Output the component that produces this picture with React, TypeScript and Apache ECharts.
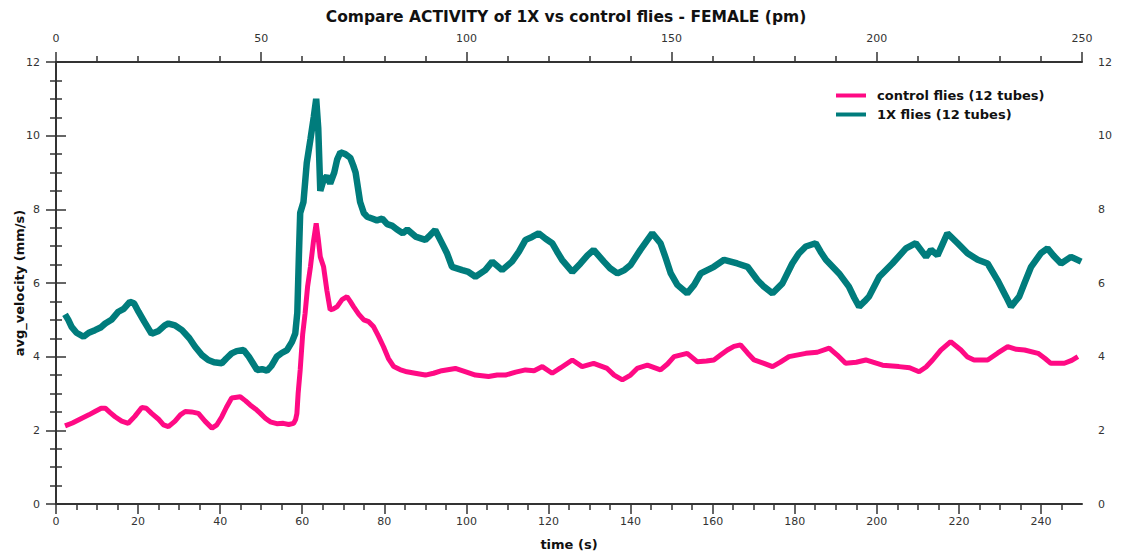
import React, { useEffect, useRef } from "react";
import * as echarts from "echarts";

const TITLE = "Compare ACTIVITY of 1X vs control flies - FEMALE (pm)";
const X_NAME = "time (s)";
const Y_NAME = "avg_velocity (mm/s)";
const CONTROL_NAME = "control flies (12 tubes)";
const ONE_X_NAME = "1X flies (12 tubes)";

const CONTROL_COLOR = "#ff0a84";
const ONE_X_COLOR = "#007c7c";

// bottom axis: labelled ticks every 20 s, short ticks every 5 s
const BOTTOM_MAJOR = [0, 20, 40, 60, 80, 100, 120, 140, 160, 180, 200, 220, 240];
const BOTTOM_MINOR = Array.from({ length: 50 }, (_, i) => i * 5).filter((v) => v % 20 !== 0);

// [time (s), avg_velocity (mm/s)]
const controlFlies: [number, number][] = [
  [2.2, 2.12], [4.0, 2.2], [6.3, 2.33], [8.0, 2.42], [9.5, 2.51], [11.0, 2.6], [12.0, 2.6],
  [13.2, 2.48], [14.4, 2.37], [16.0, 2.25], [17.6, 2.19], [19.2, 2.38], [20.9, 2.62], [22.0, 2.6],
  [23.3, 2.46], [25.0, 2.3], [26.2, 2.15], [27.4, 2.1], [29.0, 2.25], [30.3, 2.42], [31.5, 2.51],
  [33.0, 2.5], [34.7, 2.46], [36.3, 2.25], [38.0, 2.06], [39.2, 2.15], [40.4, 2.37], [41.5, 2.62],
  [42.8, 2.88], [44.9, 2.91], [46.2, 2.8], [47.3, 2.69], [48.6, 2.58], [49.8, 2.46], [51.0, 2.33],
  [52.2, 2.23], [53.8, 2.18], [55.4, 2.19], [56.7, 2.16], [57.9, 2.19], [58.4, 2.3], [58.7, 2.46],
  [59.0, 3.0], [59.5, 3.64], [60.1, 4.6], [60.7, 5.18], [61.3, 5.9], [62.0, 6.44], [62.7, 7.1],
  [63.4, 7.62], [63.9, 7.2], [64.4, 6.71], [65.2, 6.44], [66.0, 5.8], [66.8, 5.27], [67.6, 5.3],
  [68.5, 5.36], [69.7, 5.55], [70.9, 5.63], [71.7, 5.5], [72.5, 5.36], [73.8, 5.15], [75.0, 5.0],
  [76.2, 4.95], [77.4, 4.81], [78.6, 4.55], [79.8, 4.27], [81.0, 3.95], [82.3, 3.73], [83.8, 3.65],
  [85.5, 3.59], [87.5, 3.55], [90.0, 3.5], [92.0, 3.55], [94.0, 3.62], [97.3, 3.68], [99.5, 3.6],
  [102.2, 3.5], [105.4, 3.46], [107.5, 3.5], [109.5, 3.5], [112.0, 3.58], [114.4, 3.64],
  [116.5, 3.62], [118.5, 3.73], [120.9, 3.55], [123.0, 3.7], [125.8, 3.91], [128.2, 3.73],
  [131.0, 3.82], [134.3, 3.68], [136.0, 3.5], [138.0, 3.37], [140.0, 3.5], [141.6, 3.68],
  [144.1, 3.77], [147.3, 3.64], [149.0, 3.8], [150.6, 4.0], [153.8, 4.09], [156.3, 3.86],
  [158.5, 3.88], [160.3, 3.91], [162.0, 4.05], [163.6, 4.18], [165.2, 4.28], [166.8, 4.32],
  [168.5, 4.1], [170.1, 3.91], [172.5, 3.82], [174.6, 3.73], [176.5, 3.85], [178.6, 4.0],
  [182.7, 4.09], [185.5, 4.12], [188.4, 4.23], [190.3, 4.05], [192.4, 3.82], [195.0, 3.85],
  [197.3, 3.91], [201.4, 3.77], [205.4, 3.73], [208.0, 3.7], [210.3, 3.59], [212.0, 3.72],
  [213.6, 3.91], [215.6, 4.18], [218.0, 4.41], [220.5, 4.18], [222.0, 4.0], [223.7, 3.91],
  [227.0, 3.91], [229.5, 4.1], [231.9, 4.27], [234.0, 4.2], [236.0, 4.18], [239.3, 4.09],
  [241.0, 3.95], [242.4, 3.82], [245.7, 3.82], [247.5, 3.9], [249.0, 4.0],
];

const oneXFlies: [number, number][] = [
  [2.2, 5.15], [3.0, 5.0], [3.8, 4.81], [5.0, 4.65], [6.7, 4.54], [8.0, 4.65], [9.5, 4.72],
  [11.0, 4.8], [12.0, 4.9], [13.5, 5.0], [15.2, 5.22], [16.5, 5.3], [18.0, 5.49], [19.0, 5.45],
  [20.1, 5.22], [21.5, 4.95], [23.3, 4.62], [25.0, 4.7], [26.5, 4.85], [27.4, 4.9], [29.0, 4.85],
  [30.7, 4.72], [32.5, 4.5], [33.9, 4.27], [35.5, 4.05], [37.1, 3.91], [38.5, 3.85], [40.4, 3.82],
  [41.5, 3.95], [42.8, 4.09], [44.0, 4.15], [45.7, 4.18], [47.0, 4.0], [49.0, 3.64], [50.2, 3.66],
  [51.4, 3.62], [52.5, 3.75], [53.8, 4.0], [55.0, 4.1], [56.3, 4.18], [57.5, 4.4], [58.3, 4.63],
  [58.8, 5.2], [59.2, 6.8], [59.5, 7.9], [60.3, 8.2], [61.1, 9.26], [62.0, 9.9], [62.8, 10.5],
  [63.4, 11.0], [63.9, 10.2], [64.4, 8.5], [65.2, 8.8], [66.0, 8.9], [66.8, 8.7], [67.8, 9.0],
  [68.5, 9.35], [69.3, 9.55], [70.5, 9.5], [71.7, 9.4], [72.4, 9.2], [73.0, 9.0], [74.1, 8.2],
  [75.0, 7.9], [75.8, 7.8], [77.0, 7.75], [78.2, 7.7], [79.5, 7.75], [80.7, 7.6], [82.0, 7.55],
  [83.1, 7.45], [84.5, 7.35], [85.6, 7.45], [87.6, 7.26], [90.0, 7.17], [91.2, 7.3], [92.4, 7.44],
  [94.0, 7.09], [95.3, 6.8], [96.5, 6.44], [99.0, 6.35], [100.5, 6.3], [102.2, 6.17], [104.6, 6.35],
  [106.3, 6.58], [108.7, 6.35], [111.1, 6.58], [112.8, 6.85], [114.4, 7.17], [116.0, 7.25],
  [117.6, 7.35], [119.3, 7.2], [120.9, 7.08], [122.1, 6.85], [123.3, 6.63], [125.8, 6.3],
  [127.8, 6.53], [129.5, 6.75], [131.0, 6.9], [133.5, 6.58], [135.0, 6.4], [136.8, 6.26],
  [138.5, 6.35], [140.0, 6.49], [142.4, 6.9], [144.0, 7.15], [145.3, 7.35], [147.3, 7.08],
  [148.5, 6.7], [149.8, 6.26], [151.4, 5.95], [153.8, 5.72], [155.5, 5.95], [157.1, 6.26],
  [160.3, 6.44], [162.8, 6.63], [166.0, 6.53], [168.5, 6.44], [170.9, 6.08], [172.5, 5.9],
  [174.6, 5.72], [177.0, 5.99], [179.4, 6.53], [181.0, 6.8], [182.7, 6.99], [185.1, 7.08],
  [186.3, 6.85], [187.6, 6.63], [190.8, 6.26], [193.2, 5.9], [194.5, 5.6], [195.7, 5.36],
  [197.0, 5.5], [198.1, 5.63], [200.6, 6.17], [203.8, 6.53], [207.1, 6.94], [209.5, 7.08],
  [212.0, 6.71], [213.2, 6.9], [214.8, 6.75], [216.0, 7.05], [217.2, 7.35], [219.7, 7.08],
  [222.1, 6.81], [224.6, 6.63], [227.0, 6.53], [229.4, 6.08], [231.5, 5.63], [232.7, 5.36],
  [234.7, 5.63], [236.0, 6.0], [237.6, 6.44], [240.0, 6.81], [241.6, 6.94], [243.0, 6.75],
  [244.9, 6.53], [247.3, 6.71], [249.8, 6.58],
];

const FONT = "DejaVu Sans";
const AXIS_COLOR = "#333";
const LABEL_STYLE = { fontFamily: FONT, fontSize: 11, color: "#333" };
const NAME_STYLE = { fontFamily: FONT, fontSize: 13, fontWeight: "bold" as const, color: "#111" };

export default function App() {
  const ref = useRef<HTMLDivElement>(null);

  useEffect(() => {
    if (!ref.current) return;
    const chart = echarts.init(ref.current, undefined, { renderer: "svg" });
    const axisLine = { show: true, lineStyle: { color: AXIS_COLOR, width: 2 } };
    const majorTick = { show: true, length: 10, lineStyle: { color: AXIS_COLOR, width: 1.5 } };
    const minorTick = { show: true, length: 6, lineStyle: { color: AXIS_COLOR, width: 1.5 } };

    chart.setOption({
      animation: false,
      backgroundColor: "#fff",
      title: {
        text: TITLE,
        left: 561,
        textAlign: "center",
        top: 4,
        textStyle: { fontFamily: FONT, fontSize: 15.5, fontWeight: "bold", color: "#111" },
      },
      legend: {
        orient: "vertical",
        left: 831,
        top: 84,
        icon: "rect",
        itemWidth: 30,
        itemHeight: 4,
        itemGap: 6,
        data: [CONTROL_NAME, ONE_X_NAME],
        textStyle: { fontFamily: FONT, fontSize: 13, fontWeight: "bold", color: "#111", padding: [0, 0, 0, 6] },
      },
      grid: { left: 56, right: 42, top: 62, bottom: 54, containLabel: false, outerBoundsMode: "none" },
      xAxis: [
        {
          type: "value",
          position: "bottom",
          min: 0,
          max: 250,
          axisLine,
          axisTick: { ...majorTick, customValues: BOTTOM_MAJOR },
          axisLabel: { ...LABEL_STYLE, margin: 12, customValues: BOTTOM_MAJOR },
          splitLine: { show: false },
          name: X_NAME,
          nameLocation: "middle",
          nameGap: 34,
          nameMoveOverlap: false,
          nameTextStyle: NAME_STYLE,
        },
        {
          type: "value",
          position: "bottom",
          min: 0,
          max: 250,
          axisLine: { show: false },
          axisTick: { ...minorTick, customValues: BOTTOM_MINOR },
          axisLabel: { show: false },
          splitLine: { show: false },
        },
        {
          type: "value",
          position: "top",
          min: 0,
          max: 250,
          interval: 50,
          axisLine,
          axisTick: majorTick,
          minorTick: { ...minorTick, splitNumber: 5 },
          axisLabel: { ...LABEL_STYLE, margin: 18 },
          splitLine: { show: false },
        },
      ],
      yAxis: [
        {
          type: "value",
          position: "left",
          min: 0,
          max: 12,
          interval: 2,
          axisLine,
          axisTick: majorTick,
          minorTick: { ...minorTick, splitNumber: 4 },
          axisLabel: { ...LABEL_STYLE, margin: 16 },
          splitLine: { show: false },
          name: Y_NAME,
          nameLocation: "middle",
          nameGap: 30,
          nameRotate: 90,
          nameMoveOverlap: false,
          nameTextStyle: NAME_STYLE,
        },
        {
          type: "value",
          position: "right",
          min: 0,
          max: 12,
          interval: 2,
          axisLine,
          axisTick: majorTick,
          minorTick: { ...minorTick, splitNumber: 4 },
          axisLabel: { ...LABEL_STYLE, margin: 16 },
          splitLine: { show: false },
        },
      ],
      series: [
        {
          name: CONTROL_NAME,
          type: "line",
          xAxisIndex: 0,
          yAxisIndex: 0,
          data: controlFlies,
          showSymbol: false,
          color: CONTROL_COLOR,
          lineStyle: { color: CONTROL_COLOR, width: 5 },
        },
        {
          name: ONE_X_NAME,
          type: "line",
          xAxisIndex: 0,
          yAxisIndex: 0,
          data: oneXFlies,
          showSymbol: false,
          color: ONE_X_COLOR,
          lineStyle: { color: ONE_X_COLOR, width: 6.5 },
        },
      ],
    });

    return () => chart.dispose();
  }, []);

  return (
    <div
      ref={ref}
      style={{ position: "absolute", left: 0, top: 0, width: 1124, height: 558, background: "#fff" }}
    />
  );
}
